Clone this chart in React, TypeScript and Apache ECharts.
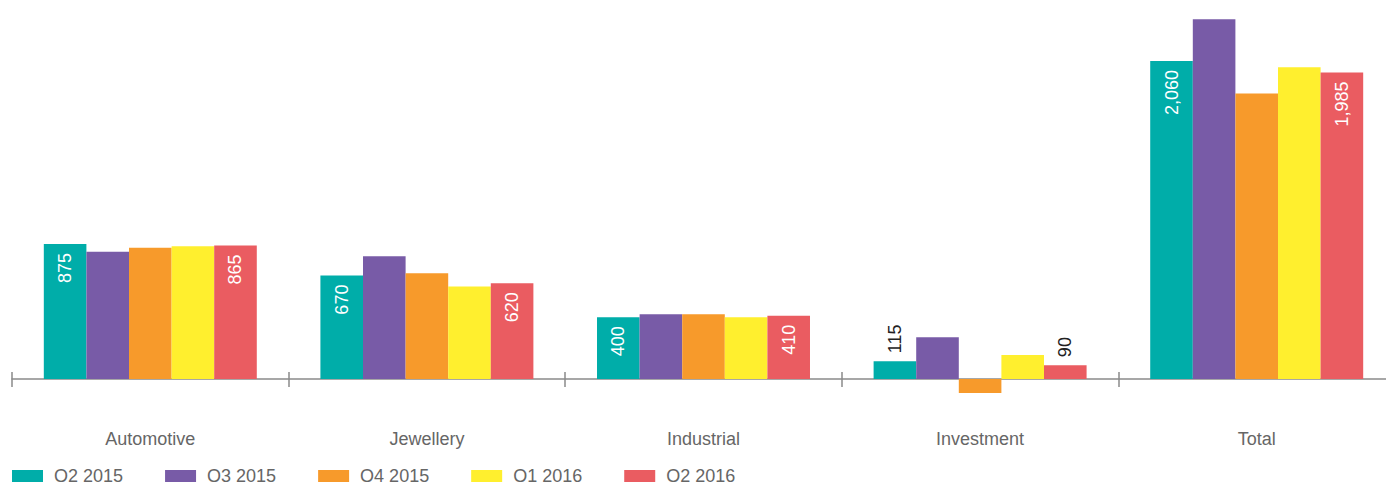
import React, { useEffect, useRef } from "react";
import * as echarts from "echarts";

const categories = ["Automotive", "Jewellery", "Industrial", "Investment", "Total"];
const seriesNames = ["Q2 2015", "Q3 2015", "Q4 2015", "Q1 2016", "Q2 2016"];
const q2_2015 = [875, 670, 400, 115, 2060];
const q3_2015 = [825, 795, 420, 270, 2330];
const q4_2015 = [850, 685, 420, -90, 1850];
const q1_2016 = [860, 600, 400, 155, 2020];
const q2_2016 = [865, 620, 410, 90, 1985];
const colors = ["#00ADA9", "#785BA7", "#F79A2B", "#FFEF2E", "#EA5C61"];
const labelledSeries = [0, 4];
const outsideLabelCategory = "Investment";

const FONT = 'Arial, "Liberation Sans", Helvetica, sans-serif';
const Y_MIN = -200;
const Y_MAX = 2400;
const GRID_TOP = 8.5;
const GRID_HEIGHT = 401.4;

export default function App() {
  const ref = useRef<HTMLDivElement>(null);
  useEffect(() => {
    if (!ref.current) return;
    const chart = echarts.init(ref.current, undefined, { renderer: "svg" });
    const allData = [q2_2015, q3_2015, q4_2015, q1_2016, q2_2016];
    const fmt = (p: any) => Number(p.value).toLocaleString("en-US");
    const series = allData.map((arr, si) => {
      const showLabel = labelledSeries.includes(si);
      return {
        name: seriesNames[si],
        type: "bar",
        xAxisIndex: 0,
        barGap: "0%",
        barCategoryGap: "23%",
        itemStyle: { color: colors[si] },
        label: {
          show: showLabel,
          position: "insideTop",
          rotate: 90,
          align: "right",
          verticalAlign: "middle",
          distance: 9,
          color: "#ffffff",
          fontSize: 18,
          fontFamily: FONT,
          formatter: fmt,
        },
        data: arr.map((v, ci) =>
          showLabel && categories[ci] === outsideLabelCategory
            ? {
                value: v,
                label: {
                  position: "top",
                  align: "left",
                  verticalAlign: "middle",
                  distance: 8,
                  color: "#222222",
                },
              }
            : v
        ),
      };
    });
    const zeroOffset = -(GRID_HEIGHT * (0 - Y_MIN)) / (Y_MAX - Y_MIN);
    const tickStyle = { color: "#8a8a8a", width: 1.5 };
    chart.setOption({
      animation: false,
      grid: { left: 12, right: 5, top: GRID_TOP, height: GRID_HEIGHT },
      legend: {
        left: 12,
        top: 467,
        padding: 0,
        icon: "rect",
        itemWidth: 31,
        itemHeight: 12,
        itemGap: 42,
        textStyle: {
          fontSize: 18,
          lineHeight: 14,
          color: "#666666",
          fontFamily: FONT,
          padding: [0, 0, 0, 6],
        },
        data: seriesNames,
      },
      xAxis: [
        {
          type: "category",
          data: categories,
          position: "bottom",
          axisLine: { show: true, onZero: true, lineStyle: tickStyle },
          axisTick: { show: true, length: 8, inside: false, lineStyle: tickStyle },
          axisLabel: { margin: 20, fontSize: 18, color: "#666666", fontFamily: FONT },
          splitLine: { show: false },
        },
        {
          type: "category",
          data: categories,
          position: "bottom",
          offset: zeroOffset,
          axisLine: { show: false, onZero: false },
          axisTick: { show: true, length: 7, inside: true, lineStyle: tickStyle },
          axisLabel: { show: false },
          splitLine: { show: false },
        },
      ],
      yAxis: { type: "value", min: Y_MIN, max: Y_MAX, show: false, splitLine: { show: false } },
      series,
    });
    return () => chart.dispose();
  }, []);
  return (
    <div
      style={{ position: "absolute", left: 0, top: 0, width: 1386, height: 482, overflow: "hidden", background: "#fff" }}
    >
      <div ref={ref} style={{ width: 1400, height: 482 }} />
    </div>
  );
}
